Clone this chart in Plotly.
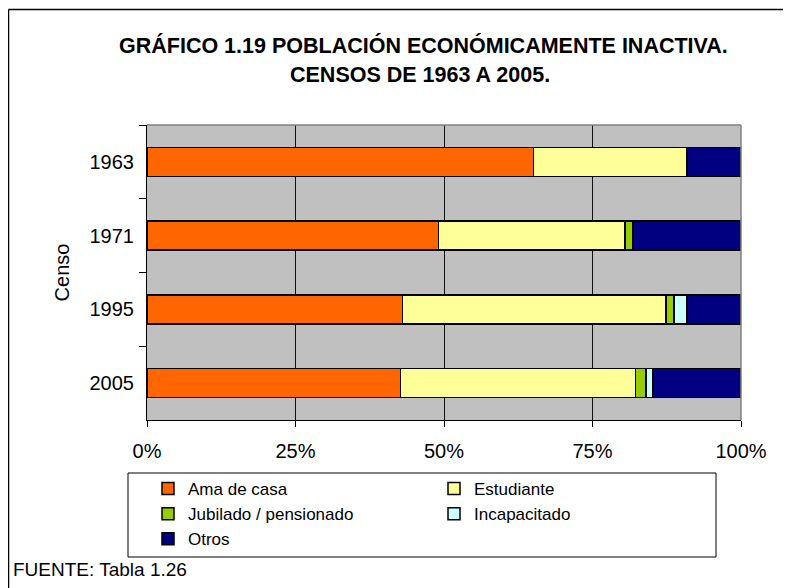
import plotly.graph_objects as go

censos = ["1963", "1971", "1995", "2005"]
ama_de_casa = [65.1, 49.1, 43.0, 42.7]
estudiante = [25.8, 31.4, 44.4, 39.5]
jubilado = [0.0, 1.3, 1.3, 1.8]
incapacitado = [0.0, 0.0, 2.2, 1.2]
otros = [9.1, 18.2, 9.1, 14.8]

x_ticks = [0, 25, 50, 75, 100]
x_tick_labels = ["0%", "25%", "50%", "75%", "100%"]

series = [
    ("Ama de casa", ama_de_casa, "#FF6600"),
    ("Estudiante", estudiante, "#FFFF99"),
    ("Jubilado / pensionado", jubilado, "#99CC00"),
    ("Incapacitado", incapacitado, "#CCFFFF"),
    ("Otros", otros, "#000080"),
]

FONT = "Liberation Sans, Arial, sans-serif"
# the page body has an 8px margin; figure is sized to fill the window
OFF = 8
WIN_W, WIN_H = 791, 588
W, H = WIN_W - OFF, WIN_H - OFF
# plot area in window pixels
PX0, PX1, PY0, PY1 = 147, 741, 125, 420
L, R, T, B = PX0 - OFF, WIN_W - PX1, PY0 - OFF, WIN_H - PY1
PW, PH = PX1 - PX0, PY1 - PY0


def px_x(px):
    return (px - PX0) / PW


def px_y(py):
    return (PY1 - py) / PH


fig = go.Figure()
for name, vals, color in series:
    fig.add_trace(go.Bar(
        y=censos, x=vals, name=name, orientation="h",
        marker=dict(color=color, line=dict(color="#000000", width=1.5)),
    ))

fig.update_layout(
    width=W, height=H,
    margin=dict(l=L, r=R, t=T, b=B, autoexpand=False),
    barmode="stack", bargap=0.61,
    paper_bgcolor="white", plot_bgcolor="#C0C0C0",
    font=dict(family=FONT, size=19, color="black"),
    showlegend=True,
    legend=dict(
        orientation="h", xref="container", yref="container",
        x=(148 - OFF) / W, y=1 - (471 - OFF) / H, xanchor="left", yanchor="top",
        entrywidth=241, entrywidthmode="pixels",
        traceorder="normal", font=dict(size=17),
        bgcolor="rgba(0,0,0,0)", borderwidth=0,
    ),
    xaxis=dict(
        range=[0, 100], tickvals=x_ticks, ticktext=x_tick_labels,
        showgrid=True, gridcolor="#111111", gridwidth=1,
        zeroline=False, showline=True, linecolor="#000000", linewidth=1,
        ticks="outside", ticklen=6, tickcolor="#000000",
        ticklabelstandoff=7, tickfont=dict(size=20),
        fixedrange=True,
    ),
    yaxis=dict(
        categoryorder="array", categoryarray=censos, autorange="reversed",
        showgrid=False, zeroline=False, showline=True,
        linecolor="#000000", linewidth=1,
        ticks="outside", tickson="boundaries", ticklen=7, tickcolor="#000000",
        ticklabelstandoff=8, tickfont=dict(size=20),
        title=dict(text="Censo", font=dict(size=20), standoff=14),
        fixedrange=True,
    ),
)

shapes = [
    # plot frame (top/right grey)
    dict(type="line", xref="paper", yref="paper", x0=0, x1=1, y0=1, y1=1,
         line=dict(color="#808080", width=1.5)),
    dict(type="line", xref="paper", yref="paper", x0=1, x1=1, y0=0, y1=1,
         line=dict(color="#808080", width=1.5)),
    # legend box
    dict(type="rect", xref="paper", yref="paper",
         x0=px_x(128), x1=px_x(716), y0=px_y(557), y1=px_y(473),
         line=dict(color="#000000", width=1), fillcolor="rgba(0,0,0,0)"),
    # chart outer border
    dict(type="line", xref="paper", yref="paper",
         x0=px_x(8.5), x1=px_x(800), y0=px_y(9.5), y1=px_y(9.5),
         line=dict(color="#000000", width=1.5)),
    dict(type="line", xref="paper", yref="paper",
         x0=px_x(8.5), x1=px_x(8.5), y0=px_y(9.5), y1=px_y(600),
         line=dict(color="#000000", width=1.5)),
]
fig.update_layout(shapes=shapes)

annotations = [
    dict(text="<b>GRÁFICO 1.19 POBLACIÓN ECONÓMICAMENTE INACTIVA.</b>",
         xref="paper", yref="paper", x=px_x(423), y=px_y(45),
         xanchor="center", yanchor="middle", showarrow=False,
         font=dict(size=21.5, family=FONT)),
    dict(text="<b>CENSOS DE 1963 A 2005.</b>",
         xref="paper", yref="paper", x=px_x(420), y=px_y(75),
         xanchor="center", yanchor="middle", showarrow=False,
         font=dict(size=21.5, family=FONT)),
    dict(text="FUENTE: Tabla 1.26",
         xref="paper", yref="paper", x=px_x(11), y=px_y(569),
         xanchor="left", yanchor="middle", showarrow=False,
         font=dict(size=19, family=FONT)),
]
fig.update_layout(annotations=annotations)

fig.write_html("out.html")
